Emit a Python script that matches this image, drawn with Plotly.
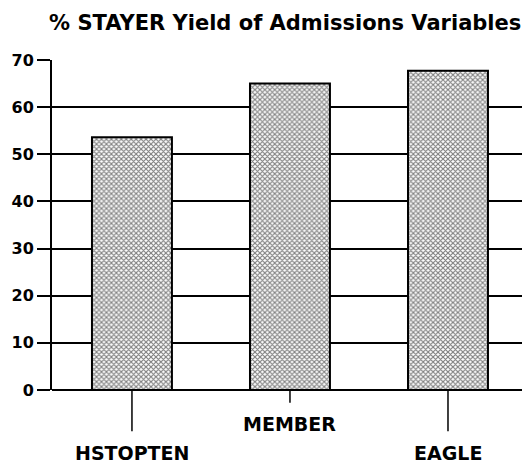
import plotly.graph_objects as go

categories = ["HSTOPTEN", "MEMBER", "EAGLE"]
values = [53.6, 65.0, 67.7]
y_ticks = [0, 10, 20, 30, 40, 50, 60, 70]
label_rows = [0, 1, 0]  # 0 = lower row, 1 = upper row (staggered labels)

FONT = "DejaVu Sans, sans-serif"
xs = list(range(len(categories)))

fig = go.Figure()
fig.add_trace(go.Bar(
    x=xs, y=values, width=0.506,
    marker=dict(color="white",
                line=dict(color="black", width=2),
                pattern=dict(shape="x", fgcolor="black", bgcolor="white",
                             size=3.5, solidity=0.55)),
    hoverinfo="skip",
))

# category ticks below the axis and staggered labels
for i, (cat, row) in enumerate(zip(categories, label_rows)):
    fig.add_shape(type="line", xref="x", yref="paper",
                  x0=i, x1=i, y0=0, y1=(-0.039 if row == 1 else -0.125),
                  line=dict(color="black", width=1.5))
    fig.add_annotation(x=i, xref="x", yref="paper",
                       y=(-0.103 if row == 1 else -0.191),
                       text="<b>%s</b>" % cat, showarrow=False,
                       font=dict(family=FONT, size=19, color="black"),
                       yanchor="middle")

fig.update_layout(
    width=522, height=458,
    margin=dict(l=44, r=0, t=52, b=76),
    paper_bgcolor="white", plot_bgcolor="white",
    showlegend=False,
    title=dict(text="<b>% STAYER Yield of Admissions Variables</b>",
               x=0.531, xanchor="center", y=0.969, yanchor="middle",
               font=dict(family=FONT, size=21, color="black")),
    xaxis=dict(range=[-0.506, 2.519], showticklabels=False, showgrid=False,
               zeroline=False, showline=False, ticks=""),
    yaxis=dict(range=[0, 70], tickvals=y_ticks,
               ticktext=["<b>%d</b>" % v for v in y_ticks],
               tickfont=dict(family=FONT, size=16, color="black"),
               showgrid=True, gridcolor="black", gridwidth=2,
               zeroline=True, zerolinecolor="black", zerolinewidth=2,
               showline=True, linecolor="black", linewidth=2,
               ticks="outside", ticklen=13, tickwidth=2, tickcolor="black"),
)

fig.write_html("out.html")
